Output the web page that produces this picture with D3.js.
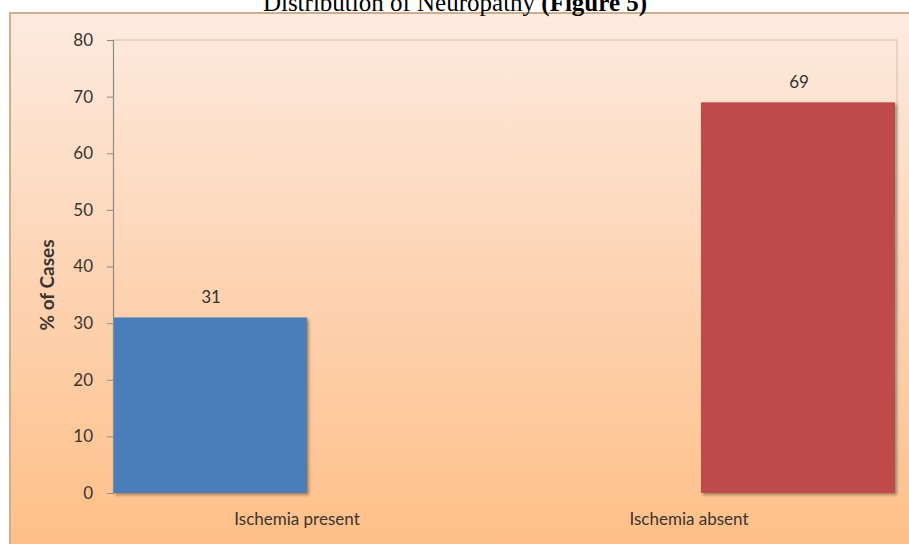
<!DOCTYPE html>
<html>
<head>
<meta charset="utf-8">
<script src="https://cdn.jsdelivr.net/npm/d3@7/dist/d3.min.js"></script>
<style>
  html, body { margin: 0; padding: 0; background: #ffffff; }
  svg { display: block; }
</style>
</head>
<body>
<svg id="chart" width="909" height="544"></svg>
<script>
// Share of cases with and without ischemia
const categories = ["Ischemia present", "Ischemia absent"];
const seriesNames = ["present", "absent"];
// one series per category; the other slot in each group is empty
const seriesValues = [
  [31, null],
  [null, 69]
];
const seriesColors = ["#4a7ebb", "#be4b48"];
const yTicks = [0, 10, 20, 30, 40, 50, 60, 70, 80];
const yTitle = "% of Cases";
const titleMain = "Distribution of Neuropathy ";
const titleBold = "(Figure 5)";

const svg = d3.select("#chart");
const W = 909, H = 544;
const plot = { left: 113, right: 897, top: 40, bottom: 493 };
const font = "Lato, 'Open Sans', sans-serif";
const textColor = "#3a3530";

const defs = svg.append("defs");
const bg = defs.append("linearGradient")
  .attr("id", "bgGrad").attr("x1", 0).attr("y1", 0).attr("x2", 0).attr("y2", 1);
bg.append("stop").attr("offset", "0%").attr("stop-color", "#fdebe0");
bg.append("stop").attr("offset", "50%").attr("stop-color", "#fdd3b2");
bg.append("stop").attr("offset", "100%").attr("stop-color", "#ffbf86");

const shadow = defs.append("filter").attr("id", "barShadow")
  .attr("x", "-5%").attr("y", "-5%").attr("width", "115%").attr("height", "115%");
shadow.append("feGaussianBlur").attr("in", "SourceAlpha").attr("stdDeviation", 1.6);
shadow.append("feOffset").attr("dx", 2).attr("dy", 2).attr("result", "off");
shadow.append("feComponentTransfer").append("feFuncA").attr("type", "linear").attr("slope", 0.35);
const merge = shadow.append("feMerge");
merge.append("feMergeNode");
merge.append("feMergeNode").attr("in", "SourceGraphic");

// chart area with its frame
svg.append("rect")
  .attr("x", 10).attr("y", 13).attr("width", W).attr("height", H)
  .attr("fill", "url(#bgGrad)")
  .attr("stroke", "#cfae8e").attr("stroke-width", 2);

// title sitting on the frame's top edge
const title = svg.append("text")
  .attr("x", 455).attr("y", 11)
  .attr("text-anchor", "middle")
  .attr("font-family", "'Liberation Serif', 'Times New Roman', serif")
  .attr("font-size", 25)
  .attr("fill", "#000");
title.append("tspan").text(titleMain);
title.append("tspan").attr("font-weight", "bold").text(titleBold);

const x0 = d3.scaleBand().domain(categories).range([plot.left, plot.right]).padding(0);
const x1 = d3.scaleBand().domain(seriesNames).range([0, x0.bandwidth()]).padding(0);
const y = d3.scaleLinear().domain([0, 80]).range([plot.bottom, plot.top]);

// plot area border (top and right)
svg.append("path")
  .attr("d", `M${plot.left},${plot.top}H${plot.right}V${plot.bottom}`)
  .attr("fill", "none").attr("stroke", "#dfcdbf").attr("stroke-width", 1.5);

const barData = [];
categories.forEach((c, ci) => {
  seriesNames.forEach((s, si) => {
    const v = seriesValues[si][ci];
    if (v != null) barData.push({ cat: c, series: s, si, value: v });
  });
});

// bars
svg.append("g").selectAll("rect")
  .data(barData)
  .join("rect")
  .attr("x", d => x0(d.cat) + x1(d.series))
  .attr("y", d => y(d.value))
  .attr("width", x1.bandwidth() - 2)
  .attr("height", d => y(0) - y(d.value))
  .attr("fill", d => seriesColors[d.si])
  .attr("filter", "url(#barShadow)");

// value labels
svg.append("g").selectAll("text")
  .data(barData)
  .join("text")
  .attr("x", d => x0(d.cat) + x1(d.series) + x1.bandwidth() / 2)
  .attr("y", d => y(d.value) - 14)
  .attr("text-anchor", "middle")
  .attr("font-family", font)
  .attr("font-size", 17)
  .attr("fill", "#333")
  .text(d => d.value);

// y axis
const yAxis = svg.append("g")
  .attr("transform", `translate(${plot.left},0)`)
  .call(d3.axisLeft(y).tickValues(yTicks).tickSize(6).tickPadding(14));
yAxis.select(".domain").attr("stroke", "#8e8a86").attr("stroke-width", 1.2);
yAxis.selectAll(".tick line").attr("stroke", "#8e8a86");
yAxis.selectAll(".tick text")
  .attr("font-family", font)
  .attr("font-size", 17)
  .attr("fill", textColor);

// x axis
const xAxis = svg.append("g")
  .attr("transform", `translate(0,${plot.bottom})`)
  .call(d3.axisBottom(x0).tickSize(0).tickPadding(20));
xAxis.select(".domain").attr("stroke", "#7d6e62").attr("stroke-width", 1.6)
  .attr("filter", "url(#barShadow)");
xAxis.selectAll(".tick text")
  .attr("dx", -12)
  .attr("font-family", font)
  .attr("font-size", 17)
  .attr("fill", textColor);

// y axis title
svg.append("text")
  .attr("transform", `translate(54,285) rotate(-90)`)
  .attr("text-anchor", "middle")
  .attr("font-family", font)
  .attr("font-weight", "bold")
  .attr("font-size", 19)
  .attr("fill", textColor)
  .text(yTitle);
</script>
</body>
</html>
